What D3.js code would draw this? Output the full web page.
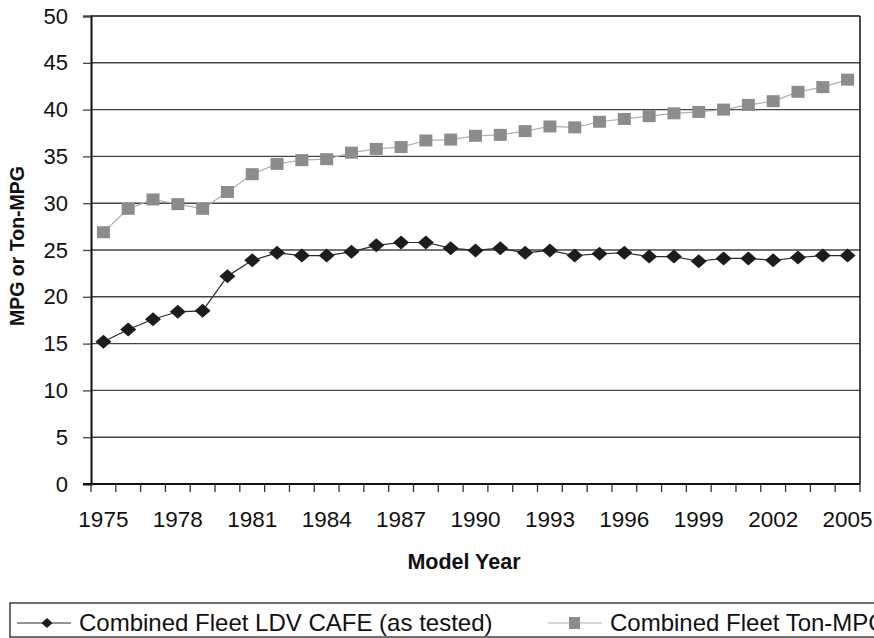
<!DOCTYPE html>
<html>
<head>
<meta charset="utf-8">
<script src="https://cdn.jsdelivr.net/npm/d3@7"></script>
<style>
  html, body { margin: 0; padding: 0; background: #fff; }
  svg { display: block; font-family: "Liberation Sans", Arial, sans-serif; }
</style>
</head>
<body>
<div id="container"></div>
<script>
const years = ["1975", "1976", "1977", "1978", "1979", "1980", "1981", "1982", "1983", "1984",
    "1985", "1986", "1987", "1988", "1989", "1990", "1991", "1992", "1993", "1994",
    "1995", "1996", "1997", "1998", "1999", "2000", "2001", "2002", "2003", "2004", "2005"];
const ldvCafe = [15.2, 16.5, 17.6, 18.4, 18.5, 22.2, 23.9, 24.7, 24.4, 24.4,
    24.8, 25.5, 25.8, 25.8, 25.2, 24.95, 25.2, 24.7, 24.95, 24.4,
    24.6, 24.7, 24.3, 24.3, 23.8, 24.1, 24.1, 23.9, 24.2, 24.4, 24.4];
const tonMpg = [26.9, 29.4, 30.4, 29.9, 29.4, 31.2, 33.1, 34.2, 34.6, 34.7,
    35.4, 35.8, 36.0, 36.7, 36.8, 37.2, 37.3, 37.7, 38.2, 38.1,
    38.7, 39.0, 39.3, 39.6, 39.75, 40.0, 40.5, 40.9, 41.9, 42.4, 43.2];
const xTickLabels = ["1975", "1978", "1981", "1984", "1987", "1990", "1993", "1996", "1999", "2002", "2005"];
const yTicks = [0, 5, 10, 15, 20, 25, 30, 35, 40, 45, 50];
const seriesNames = ["Combined Fleet LDV CAFE (as tested)", "Combined Fleet Ton-MPG"];

const W = 874, H = 638;
const plotL = 91, plotR = 860, plotT = 16, plotB = 484;

const svg = d3.select("#container").append("svg")
    .attr("width", W)
    .attr("height", H);

const x = d3.scaleBand().domain(years).range([plotL, plotR]).padding(0);
const y = d3.scaleLinear().domain([0, 50]).range([plotB, plotT]);
const cx = function(d, i) { return x(years[i]) + x.bandwidth() / 2; };

// gridlines
svg.append("g")
    .selectAll("line")
    .data(yTicks.filter(function(v) { return v > 0; }))
    .enter().append("line")
    .attr("x1", plotL).attr("x2", plotR)
    .attr("y1", function(d) { return y(d); })
    .attr("y2", function(d) { return y(d); })
    .attr("stroke", function(d) { return d === 50 ? "#111" : "#444"; })
    .attr("stroke-width", 1.4);

// right border
svg.append("line")
    .attr("x1", plotR).attr("x2", plotR)
    .attr("y1", plotT).attr("y2", plotB)
    .attr("stroke", "#111").attr("stroke-width", 1.5);

// y axis
const yAxis = svg.append("g")
    .attr("transform", `translate(${plotL},0)`)
    .call(d3.axisLeft(y).tickValues(yTicks).tickSize(8).tickPadding(15));
yAxis.select(".domain").attr("stroke", "#111").attr("stroke-width", 2);
yAxis.selectAll(".tick line").attr("stroke", "#444").attr("stroke-width", 1.3);
yAxis.selectAll(".tick text")
    .attr("font-size", 22)
    .attr("fill", "#111")
    .attr("font-family", "Liberation Sans, Arial, sans-serif");

// x axis: ticks on category boundaries
const xAxisG = svg.append("g");
xAxisG.append("line")
    .attr("x1", plotL - 8).attr("x2", plotR)
    .attr("y1", plotB).attr("y2", plotB)
    .attr("stroke", "#111").attr("stroke-width", 2);
xAxisG.selectAll(".xtick")
    .data(years.concat(["end"]))
    .enter().append("line")
    .attr("class", "xtick")
    .attr("x1", function(d, i) { return plotL + i * x.bandwidth(); })
    .attr("x2", function(d, i) { return plotL + i * x.bandwidth(); })
    .attr("y1", plotB).attr("y2", plotB + 8)
    .attr("stroke", "#333").attr("stroke-width", 1.3);
xAxisG.selectAll(".xlabel")
    .data(xTickLabels)
    .enter().append("text")
    .attr("class", "xlabel")
    .attr("x", function(d) { return x(d) + x.bandwidth() / 2; })
    .attr("y", 527)
    .attr("text-anchor", "middle")
    .attr("font-size", 22.5)
    .attr("fill", "#111")
    .text(function(d) { return d; });

// axis titles
svg.append("text")
    .attr("x", 464).attr("y", 569)
    .attr("text-anchor", "middle")
    .attr("font-size", 21.5).attr("font-weight", "bold")
    .attr("fill", "#111")
    .text("Model Year");
svg.append("text")
    .attr("transform", "translate(24,246) rotate(-90)")
    .attr("text-anchor", "middle")
    .attr("font-size", 19.5).attr("font-weight", "bold")
    .attr("fill", "#111")
    .text("MPG or Ton-MPG");

// lines
const line = d3.line()
    .x(cx)
    .y(function(d) { return y(d); });

svg.append("path")
    .datum(tonMpg)
    .attr("fill", "none")
    .attr("stroke", "#b0b0b0")
    .attr("stroke-width", 1.2)
    .attr("d", line);

svg.append("path")
    .datum(ldvCafe)
    .attr("fill", "none")
    .attr("stroke", "#2a2a2a")
    .attr("stroke-width", 1.2)
    .attr("d", line);

// markers
const diamond = "M0,-7L8,0L0,7L-8,0Z";

svg.append("g")
    .selectAll("rect")
    .data(tonMpg)
    .enter().append("rect")
    .attr("x", function(d, i) { return cx(d, i) - 6.5; })
    .attr("y", function(d) { return y(d) - 6; })
    .attr("width", 13).attr("height", 12)
    .attr("fill", "#8c8c8f");

svg.append("g")
    .selectAll("path")
    .data(ldvCafe)
    .enter().append("path")
    .attr("transform", function(d, i) { return `translate(${cx(d, i)},${y(d)})`; })
    .attr("d", diamond)
    .attr("fill", "#1c1c1c");

// legend
const legend = svg.append("g");
legend.append("rect")
    .attr("x", 10).attr("y", 603)
    .attr("width", 900).attr("height", 34)
    .attr("fill", "#fff")
    .attr("stroke", "#222").attr("stroke-width", 1.3);

const legendItems = [
    { name: seriesNames[0], x0: 17, stroke: "#2a2a2a" },
    { name: seriesNames[1], x0: 548, stroke: "#b0b0b0" }
];
const li = legend.selectAll(".item")
    .data(legendItems)
    .enter().append("g")
    .attr("class", "item")
    .attr("transform", function(d) { return `translate(${d.x0},623)`; });
li.append("line")
    .attr("x1", 0).attr("x2", 54)
    .attr("stroke", function(d) { return d.stroke; })
    .attr("stroke-width", 1.2);
li.filter(function(d, i) { return i === 0; })
    .append("path")
    .attr("transform", "translate(30,0) scale(0.7)")
    .attr("d", diamond)
    .attr("fill", "#1c1c1c");
li.filter(function(d, i) { return i === 1; })
    .append("rect")
    .attr("x", 21).attr("y", -6)
    .attr("width", 11).attr("height", 12)
    .attr("fill", "#8c8c8f");
li.append("text")
    .attr("x", 62).attr("y", 8)
    .attr("font-size", 24)
    .attr("fill", "#111")
    .text(function(d) { return d.name; });
</script>
</body>
</html>
